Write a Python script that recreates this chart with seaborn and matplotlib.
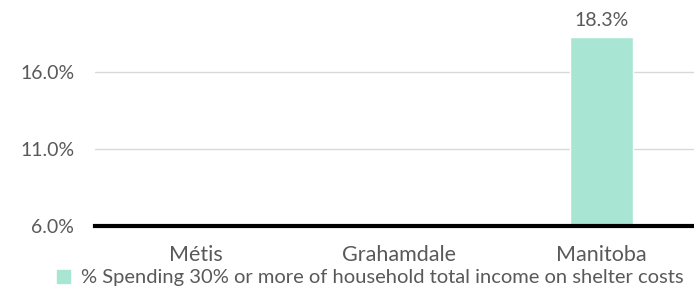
import numpy as np
import pandas as pd
import matplotlib
matplotlib.use("Agg")
import matplotlib.pyplot as plt
import matplotlib.patches as mpatches
import seaborn as sns

categories = ["Métis", "Grahamdale", "Manitoba"]
values = [np.nan, np.nan, 18.3]
series_name = "% Spending 30% or more of household total income on shelter costs"
yticks = [6.0, 11.0, 16.0]

df = pd.DataFrame({"region": categories, "pct": values})

sns.set_theme(style="white")
plt.rcParams["font.family"] = ["Lato", "DejaVu Sans"]
text_grey = "#595959"
bar_color = "#a8e6d3"

fig = plt.figure(figsize=(6.94, 2.88), dpi=100)
ax = fig.add_axes([95 / 694, 62 / 288, 608 / 694, 226 / 288])

sns.barplot(data=df, x="region", y="pct", color=bar_color, width=0.31,
            saturation=1, ax=ax)

ax.set_ylim(6.0, 20.68)
ax.set_yticks(yticks)
ax.set_yticklabels([f"{t:.1f}%" for t in yticks], fontsize=14, color=text_grey)
ax.tick_params(axis="y", length=0, pad=15)
ax.tick_params(axis="x", length=0, pad=14, labelsize=15.5, labelcolor=text_grey)
ax.grid(axis="y", color="#d9d9d9", linewidth=1)
ax.set_axisbelow(True)
ax.set_xlabel("")
ax.set_ylabel("")
for s in ["top", "right", "left"]:
    ax.spines[s].set_visible(False)
ax.spines["bottom"].set_color("black")
ax.spines["bottom"].set_linewidth(3)
ax.spines["bottom"].set_zorder(5)

for i, v in enumerate(values):
    if not np.isnan(v):
        ax.text(i, v + 0.5, f"{v:.1f}%", ha="center", va="bottom",
                fontsize=14, color=text_grey)

handle = mpatches.Patch(color=bar_color, label=series_name)
fig.legend(handles=[handle], loc="center", bbox_to_anchor=(370 / 694, 1 - 278 / 288),
           frameon=False, fontsize=14.5, labelcolor=text_grey,
           handlelength=0.65, handleheight=0.65, handletextpad=0.55, borderpad=0)

fig.savefig("out.png", dpi=100)
